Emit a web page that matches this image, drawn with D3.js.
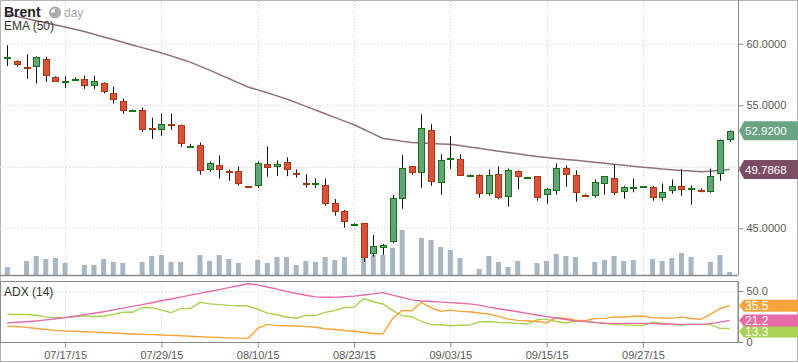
<!DOCTYPE html>
<html>
<head>
<meta charset="utf-8">
<script src="https://cdn.jsdelivr.net/npm/d3@7"></script>
<style>
  body { margin: 0; background: #fff; }
  svg { display: block; font-family: "Liberation Sans", Arial, sans-serif; }
</style>
</head>
<body>
<svg id="chart" width="798" height="363"></svg>
<script>
// Brent, daily bars (Sunday sessions included, 08/16 missing)
const dates = [
  "07/10/15","07/12/15","07/13/15","07/14/15","07/15/15","07/16/15","07/17/15","07/19/15","07/20/15","07/21/15",
  "07/22/15","07/23/15","07/24/15","07/26/15","07/27/15","07/28/15","07/29/15","07/30/15","07/31/15","08/02/15",
  "08/03/15","08/04/15","08/05/15","08/06/15","08/07/15","08/09/15","08/10/15","08/11/15","08/12/15","08/13/15",
  "08/14/15","08/17/15","08/18/15","08/19/15","08/20/15","08/21/15","08/23/15","08/24/15","08/25/15","08/26/15",
  "08/27/15","08/28/15","08/30/15","08/31/15","09/01/15","09/02/15","09/03/15","09/04/15","09/06/15","09/07/15",
  "09/08/15","09/09/15","09/10/15","09/11/15","09/13/15","09/14/15","09/15/15","09/16/15","09/17/15","09/18/15",
  "09/20/15","09/21/15","09/22/15","09/23/15","09/24/15","09/25/15","09/27/15","09/28/15","09/29/15","09/30/15",
  "10/01/15","10/02/15","10/04/15","10/05/15","10/06/15","10/07/15"
];
const open = [
  58.88,58.62,58.12,58.22,58.79,57.33,56.94,57.08,57.16,56.68,
  56.84,56.03,55.38,54.57,54.65,53.12,53.08,53.50,53.41,51.65,
  51.73,49.78,50.11,49.69,49.62,48.40,48.49,50.19,50.03,50.35,
  49.49,48.66,48.58,48.49,47.03,46.38,45.32,45.40,42.97,43.46,
  43.95,47.51,50.03,49.54,52.95,48.73,50.60,50.67,49.30,49.30,
  47.84,49.38,47.57,49.62,49.08,49.22,47.73,48.16,49.94,49.30,
  47.68,47.65,48.65,49.05,48.00,48.27,48.35,48.32,47.51,48.08,
  48.41,48.19,48.08,48.00,49.46,52.30
];
const high = [
  59.87,58.65,59.14,58.97,58.95,57.35,57.35,57.24,57.41,57.41,
  56.86,56.51,55.54,54.65,54.81,54.00,54.33,54.33,53.43,51.87,
  51.97,50.43,50.92,49.78,50.03,48.40,50.43,51.65,50.51,50.76,
  49.78,49.40,49.05,49.05,47.38,46.49,45.40,45.42,44.46,43.73,
  47.70,50.95,50.05,54.27,53.46,51.03,52.49,51.03,49.38,49.38,
  49.78,50.03,49.86,49.70,49.16,49.24,48.27,50.27,50.11,49.70,
  47.76,48.97,49.24,50.19,48.43,49.05,48.43,48.43,48.65,48.97,
  49.81,48.49,48.24,49.86,52.22,52.95
];
const low = [
  58.19,58.14,57.14,56.76,56.89,56.89,56.41,57.00,56.33,56.33,
  55.95,55.14,54.30,54.49,52.84,52.27,52.51,53.00,51.62,51.54,
  49.35,49.60,49.03,48.87,48.46,48.36,48.30,49.19,49.24,49.24,
  49.11,48.32,48.27,46.84,46.03,45.05,45.30,42.27,42.70,42.84,
  43.78,46.59,49.35,48.30,48.46,47.73,49.84,49.27,49.22,47.49,
  47.65,47.35,46.76,48.16,49.06,47.24,47.00,47.73,48.38,47.16,
  47.57,47.49,47.73,47.73,47.40,47.92,48.32,47.24,47.24,47.81,
  47.65,46.92,47.92,47.89,48.86,52.00
];
const close = [
  58.95,58.35,58.04,58.95,57.49,57.00,57.00,57.14,56.68,57.00,
  56.19,55.54,54.65,54.63,53.08,53.04,53.51,53.42,51.95,51.71,
  49.70,50.27,49.78,49.61,48.65,48.36,50.27,49.95,50.19,49.76,
  49.38,48.58,48.66,47.00,46.38,45.57,45.38,42.65,43.57,43.65,
  47.43,49.94,49.54,53.11,48.81,50.51,50.68,49.38,49.35,47.84,
  49.30,47.49,49.70,49.22,49.14,47.49,48.16,49.94,49.46,47.92,
  47.62,48.73,49.22,47.92,48.32,48.32,48.41,47.51,47.92,48.41,
  48.16,48.24,48.00,49.22,52.14,52.92
];
// volume, thousands of lots
const volume = [
  8,0,14,19,16,17,12,0,10,10,
  16,13,12,0,13,19,20,13,13,0,
  20,14,20,16,12,0,15,12,18,18,
  10,14,13,18,15,18,0,18,20,20,
  27,45,0,37,35,28,25,17,0,6,
  19,13,8,14,0,12,14,21,19,18,
  0,13,15,19,14,15,0,16,14,17,
  22,18,0,13,20,3
];
const ema50 = [
  62.39,62.22,62.04,61.87,61.70,61.52,61.35,61.18,60.99,60.77,
  60.55,60.34,60.12,59.90,59.68,59.47,59.25,59.01,58.76,58.50,
  58.18,57.85,57.51,57.17,56.82,56.48,56.25,56.01,55.76,55.50,
  55.21,54.91,54.61,54.31,54.01,53.71,53.41,53.05,52.67,52.30,
  52.19,52.07,51.97,51.93,51.89,51.86,51.82,51.72,51.61,51.50,
  51.38,51.27,51.16,51.05,50.94,50.84,50.75,50.67,50.60,50.52,
  50.44,50.36,50.29,50.21,50.13,50.05,49.97,49.90,49.82,49.76,
  49.70,49.66,49.60,49.64,49.72,49.7868
];
const adx = [
  18.7,19.3,19.9,20.6,21.7,22.8,23.9,25.3,26.8,28.2,
  29.7,31.5,33.2,34.9,36.7,38.5,40.4,42.2,44.0,45.9,
  47.7,49.5,51.4,53.3,55.2,57.1,56.0,53.9,51.8,49.6,
  47.5,45.8,44.2,43.8,43.8,44.3,45.0,46.1,47.2,48.4,
  46.0,43.7,41.3,40.2,39.7,39.1,38.6,38.0,37.4,36.1,
  34.2,32.6,31.1,29.6,28.1,26.5,24.9,23.5,22.0,20.7,
  20.0,19.2,18.5,18.3,18.3,18.3,18.3,18.0,17.7,17.5,
  17.3,17.3,17.3,18.0,19.5,21.2
];
const plusDI = [
  15.4,15.1,14.3,13.3,12.3,11.4,10.8,10.5,10.1,9.7,
  9.3,8.8,8.3,7.8,7.5,7.2,6.9,6.5,6.1,5.6,
  5.2,4.8,4.4,4.0,3.8,3.6,13.3,17.3,16.1,15.9,
  15.7,15.1,14.4,13.0,12.2,11.3,10.6,9.5,8.4,7.8,
  23.0,31.0,30.7,38.9,33.5,30.0,31.2,30.0,29.7,28.4,
  27.3,25.1,22.4,21.2,20.9,20.1,18.7,24.0,23.0,21.4,
  20.9,22.9,23.2,24.6,24.3,25.3,25.5,23.9,23.5,23.2,
  24.6,23.1,22.3,27.1,32.6,35.5
];
const minusDI = [
  27.2,26.9,27.0,26.2,24.6,23.9,23.9,24.9,25.7,24.8,
  25.5,27.1,29.1,29.1,33.6,33.7,31.2,28.8,32.7,32.8,
  38.9,37.4,36.6,35.9,35.6,35.3,32.1,28.3,26.7,24.5,
  23.3,26.1,25.9,29.0,30.7,33.8,34.0,42.6,39.5,37.3,
  31.0,25.9,24.8,20.2,17.0,16.9,15.9,16.4,16.6,19.7,
  20.1,19.2,18.9,18.3,17.6,21.8,22.2,20.1,18.7,20.6,
  20.4,19.1,18.4,17.1,16.8,16.3,16.3,19.5,18.4,17.4,
  16.3,17.5,17.3,17.0,13.4,13.3
];
const tickDates = ["07/17/15","07/29/15","08/10/15","08/23/15","09/03/15","09/15/15","09/27/15"];
const priceTicks = [45, 50, 55, 60];
const adxTicks = [0, 50];

const svg = d3.select("#chart");
const W = 798, H = 363;
const plotR = 738;
const mainT = 1, mainB = 275;
const adxT = 281.5, adxB = 342.5;

const x = d3.scalePoint().domain(dates).range([7.3, 729.6]);
const y = d3.scaleLinear().domain([45, 60]).range([228.3, 43.7]);
const yVol = d3.scaleLinear().domain([0, 50]).range([mainB, mainB - 50]);
const yAdx = d3.scaleLinear().domain([0, 50]).range([342, 291]);

const px = (d) => Math.round(x(d)) + 0.5;

// clip paths
const defs = svg.append("defs");
defs.append("clipPath").attr("id", "clipMain")
  .append("rect").attr("x", 0).attr("y", mainT).attr("width", plotR).attr("height", mainB - mainT);
defs.append("clipPath").attr("id", "clipAdx")
  .append("rect").attr("x", 0).attr("y", adxT).attr("width", plotR).attr("height", adxB - adxT);

// outer frame
svg.append("rect").attr("x", 0.5).attr("y", 0.5).attr("width", W - 1).attr("height", H - 2)
  .attr("fill", "#fff").attr("stroke", "#b5b5b5");

// grids
const grid = svg.append("g").attr("stroke", "#cfcfcf").attr("stroke-dasharray", "1,2").attr("fill", "none");
grid.selectAll("line.h").data(priceTicks).join("line")
  .attr("x1", 0).attr("x2", plotR)
  .attr("y1", (d) => Math.round(y(d)) + 0.5).attr("y2", (d) => Math.round(y(d)) + 0.5);
grid.selectAll("line.v").data(tickDates).join("line")
  .attr("x1", px).attr("x2", px).attr("y1", mainT).attr("y2", mainB);
grid.selectAll("line.va").data(tickDates).join("line")
  .attr("x1", px).attr("x2", px).attr("y1", adxT).attr("y2", adxB);
grid.append("line").attr("x1", 0).attr("x2", plotR)
  .attr("y1", Math.round(yAdx(50)) + 0.5).attr("y2", Math.round(yAdx(50)) + 0.5);

// main panel
const main = svg.append("g").attr("clip-path", "url(#clipMain)");

main.append("g").selectAll("rect").data(dates.filter((d, i) => volume[i] > 0)).join("rect")
  .attr("x", (d) => x(d) - 2.5)
  .attr("width", 5)
  .attr("y", (d) => yVol(volume[dates.indexOf(d)]))
  .attr("height", (d) => mainB - yVol(volume[dates.indexOf(d)]))
  .attr("fill", "#a6b6c3");

main.append("path")
  .datum(ema50)
  .attr("fill", "none")
  .attr("stroke", "#8f6f80")
  .attr("stroke-width", 1.5)
  .attr("d", d3.line().x((d, i) => x(dates[i])).y((d) => y(d)));

const candles = dates.map((d, i) => ({ d, o: open[i], h: high[i], l: low[i], c: close[i] }));
const cg = main.append("g");
cg.selectAll("line").data(candles).join("line")
  .attr("x1", (c) => px(c.d)).attr("x2", (c) => px(c.d))
  .attr("y1", (c) => y(c.h)).attr("y2", (c) => y(c.l))
  .attr("stroke", "#111");
cg.selectAll("rect").data(candles).join("rect")
  .attr("x", (c) => px(c.d) - 3)
  .attr("width", 6)
  .attr("y", (c) => Math.round(y(Math.max(c.o, c.c))) + 0.5)
  .attr("height", (c) => Math.max(1, Math.round(Math.abs(y(c.o) - y(c.c)))))
  .attr("fill", (c) => (c.c >= c.o ? "#64a27c" : "#da513d"))
  .attr("stroke", (c) => (c.c >= c.o ? "#117511" : "#a8380f"));

// ADX panel
const adxG = svg.append("g").attr("clip-path", "url(#clipAdx)");
const adxLine = d3.line().x((d, i) => x(dates[i])).y((d) => yAdx(d));
[[minusDI, "#a9d152"], [plusDI, "#f8a33a"], [adx, "#e86aa6"]].forEach(([s, col]) => {
  adxG.append("path").datum(s).attr("fill", "none").attr("stroke", col)
    .attr("stroke-width", 1.4).attr("d", adxLine);
});

// panel borders
svg.append("line").attr("x1", 0).attr("x2", plotR).attr("y1", mainB + 0.5).attr("y2", mainB + 0.5)
  .attr("stroke", "#8a8a8a").attr("stroke-width", 1.5);
svg.append("rect").attr("x", 0.5).attr("y", adxT).attr("width", plotR - 0.5).attr("height", adxB - adxT)
  .attr("fill", "none").attr("stroke", "#8a8a8a");

// axes
function styleAxis(g) {
  g.select(".domain").attr("stroke", "#8a8a8a");
  g.selectAll(".tick line").attr("stroke", "#8a8a8a");
  g.selectAll(".tick text").attr("fill", "#5a5a5a").style("font-size", "11px")
    .style("font-family", "'Liberation Sans', Arial, sans-serif");
}
// 50.0000 sits under the EMA tag in the original, so its label is left out
svg.append("g").attr("transform", `translate(${plotR + 0.5},0)`)
  .call(d3.axisRight(y).tickValues(priceTicks).tickFormat((d) => (d === 50 ? "" : d3.format(".4f")(d))).tickSize(5).tickPadding(3).tickSizeOuter(0))
  .call((g) => g.select(".domain").attr("d", `M0,0V${mainB}`))
  .call(styleAxis);
svg.append("g").attr("transform", `translate(${plotR + 0.5},0)`)
  .call(d3.axisRight(yAdx).tickValues(adxTicks).tickFormat((d) => (d === 0 ? "0" : d3.format(".1f")(d))).tickSize(5).tickPadding(3).tickSizeOuter(0))
  .call((g) => g.select(".domain").attr("d", `M0,${adxT}V${adxB}`))
  .call(styleAxis);
svg.append("g").attr("transform", `translate(0,${adxB})`)
  .call(d3.axisBottom(x).tickValues(tickDates).tickSize(5).tickPadding(4))
  .call((g) => g.select(".domain").remove())
  .call(styleAxis);

// value tags on the right
function tag(yc, col, text, h, fs) {
  const g = svg.append("g");
  g.append("path")
    .attr("d", `M${plotR + 1},${yc} L${plotR + 6},${yc - h / 2} H${W} V${yc + h / 2} H${plotR + 6} Z`)
    .attr("fill", col);
  g.append("text").attr("x", plotR + 7).attr("y", yc).attr("dy", "0.36em")
    .attr("fill", "#fff").style("font-size", fs + "px").text(text);
}
tag(y(close[close.length - 1]), "#6aa583", d3.format(".4f")(close[close.length - 1]), 19, 11.5);
tag(y(ema50[ema50.length - 1]), "#7b4d62", d3.format(".4f")(ema50[ema50.length - 1]), 19, 11.5);

const last = dates.length - 1;
const adxTags = [
  { v: plusDI[last], col: "#f8a33a" },
  { v: adx[last], col: "#e86aa6" },
  { v: minusDI[last], col: "#a9d152" },
].map((t) => ({ ...t, yc: yAdx(t.v) })).sort((a, b) => a.yc - b.yc);
for (let i = 1; i < adxTags.length; i++) {
  adxTags[i].yc = Math.max(adxTags[i].yc, adxTags[i - 1].yc + 11);
}
adxTags.slice().reverse().forEach((t) => tag(t.yc, t.col, d3.format(".1f")(t.v), 12, 12));

// titles
svg.append("text").attr("x", 4).attr("y", 17).attr("fill", "#222")
  .style("font-size", "14px").style("font-weight", "bold").text("Brent");
const clock = svg.append("g").attr("transform", "translate(55,12.5)");
clock.append("circle").attr("r", 5).attr("fill", "#fff").attr("stroke", "#a8a8a8").attr("stroke-width", 2);
clock.append("path").attr("d", d3.arc()({ innerRadius: 0, outerRadius: 4, startAngle: 0, endAngle: Math.PI * 1.5 }))
  .attr("fill", "#a8a8a8");
svg.append("text").attr("x", 64).attr("y", 17).attr("fill", "#a8a8a8").style("font-size", "12px").text("day");
svg.append("text").attr("x", 4).attr("y", 30).attr("fill", "#333").style("font-size", "12px").text("EMA (50)");
svg.append("text").attr("x", 4).attr("y", 296).attr("fill", "#333").style("font-size", "12px").text("ADX (14)");
</script>
</body>
</html>
